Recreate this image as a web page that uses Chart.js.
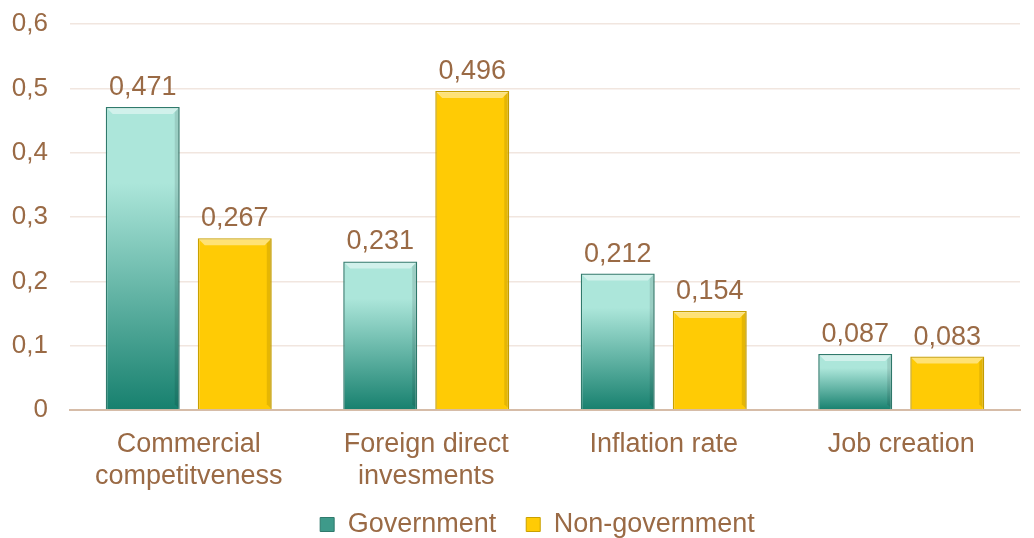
<!DOCTYPE html>
<html>
<head>
<meta charset="utf-8">
<script src="https://cdn.jsdelivr.net/npm/chart.js@4/dist/chart.umd.min.js"></script>
<style>
  html, body { margin: 0; padding: 0; background: #fff; }
  #wrap { width: 1034px; height: 538px; }
</style>
</head>
<body>
<div id="wrap"><canvas id="chart"></canvas></div>
<script>
const categories = [['Commercial', 'competitveness'], ['Foreign direct', 'invesments'], 'Inflation rate', 'Job creation'];
const government = [0.471, 0.231, 0.212, 0.087];
const nonGovernment = [0.267, 0.496, 0.154, 0.083];
const yTicks = [0, 0.1, 0.2, 0.3, 0.4, 0.5, 0.6];

const textColor = '#9a6a45';
const fontFamily = '"Liberation Sans", Arial, sans-serif';
const fmt = (v, d) => v === 0 ? '0' : v.toFixed(d).replace('.', ',');

// vertical gradient per bar, light at the top and dark at the base
const barGradient = (light, dark) => (ctx) => {
    const chart = ctx.chart;
    const y = chart.scales.y;
    if (!y || ctx.raw == null) return dark;
    const top = y.getPixelForValue(ctx.raw);
    const bottom = y.getPixelForValue(0);
    const g = chart.ctx.createLinearGradient(0, top, 0, bottom);
    g.addColorStop(0, light);
    g.addColorStop(0.25, light);
    g.addColorStop(1, dark);
    return g;
};

// soft bevel on bar edges + the value labels above each bar
const barDecor = {
    id: 'barDecor',
    afterDatasetsDraw(chart) {
        const { ctx } = chart;
        ctx.save();
        chart.data.datasets.forEach((ds, i) => {
            chart.getDatasetMeta(i).data.forEach((bar) => {
                const l = bar.x - bar.width / 2 + 1, r = bar.x + bar.width / 2 - 1;
                const t = bar.y + 1, b = bar.base - 1, e = 6;
                ctx.fillStyle = 'rgba(255,255,255,0.45)';
                ctx.beginPath();
                ctx.moveTo(l, t); ctx.lineTo(r, t); ctx.lineTo(r - e, t + e); ctx.lineTo(l + e, t + e);
                ctx.closePath(); ctx.fill();
                ctx.fillStyle = 'rgba(0,0,0,0.10)';
                ctx.beginPath();
                ctx.moveTo(r, t); ctx.lineTo(r, b); ctx.lineTo(r - 4, b - 4); ctx.lineTo(r - 4, t + 4);
                ctx.closePath(); ctx.fill();
            });
        });
        ctx.font = '27px ' + fontFamily;
        ctx.fillStyle = textColor;
        ctx.textAlign = 'center';
        ctx.textBaseline = 'alphabetic';
        chart.data.datasets.forEach((ds, i) => {
            chart.getDatasetMeta(i).data.forEach((bar, j) => {
                ctx.fillText(fmt(ds.data[j], 3), bar.x, bar.y - 12);
            });
        });
        ctx.restore();
    }
};

new Chart(document.getElementById('chart'), {
    type: 'bar',
    data: {
        labels: categories,
        datasets: [
            {
                label: 'Government',
                data: government,
                backgroundColor: barGradient('#ace6da', '#17806e'),
                borderColor: '#2f7a6c',
                borderWidth: 1.5
            },
            {
                label: 'Non-government',
                data: nonGovernment,
                backgroundColor: '#ffcb05',
                borderColor: '#c9a000',
                borderWidth: 1.5
            }
        ]
    },
    options: {
        responsive: true,
        maintainAspectRatio: false,
        animation: false,
        layout: { padding: { top: 0, right: 14, left: 0, bottom: -10 } },
        datasets: { bar: { barPercentage: 0.804, categoryPercentage: 0.775 } },
        scales: {
            x: {
                afterFit: (axis) => { axis.height = 101; },
                grid: { display: false, drawTicks: false },
                border: { display: true, color: '#d6bca8', width: 2 },
                ticks: {
                    color: textColor,
                    padding: 18,
                    font: { family: fontFamily, size: 27 }
                }
            },
            y: {
                min: 0,
                max: 0.6,
                afterFit: (axis) => { axis.width = 70; axis.paddingTop = 24; },
                afterBuildTicks: (axis) => { axis.ticks = yTicks.map(v => ({ value: v })); },
                grid: { color: '#f1e6df', lineWidth: 1.5, drawTicks: false },
                border: { display: false },
                ticks: {
                    color: textColor,
                    padding: 22,
                    font: { family: fontFamily, size: 26 },
                    callback: (v) => fmt(v, 1)
                }
            }
        },
        plugins: {
            tooltip: { enabled: false },
            legend: {
                position: 'bottom',
                fullSize: false,
                labels: {
                    color: textColor,
                    boxWidth: 14,
                    boxHeight: 14,
                    padding: 0,
                    font: { family: fontFamily, size: 27 },
                    generateLabels: () => [
                        { text: 'Government    ', fillStyle: '#3e9a8a', strokeStyle: '#2f7a6c', lineWidth: 1, fontColor: textColor, datasetIndex: 0 },
                        { text: 'Non-government  ', fillStyle: '#ffcb05', strokeStyle: '#c9a000', lineWidth: 1, fontColor: textColor, datasetIndex: 1 }
                    ]
                }
            }
        }
    },
    plugins: [barDecor]
});
</script>
</body>
</html>
